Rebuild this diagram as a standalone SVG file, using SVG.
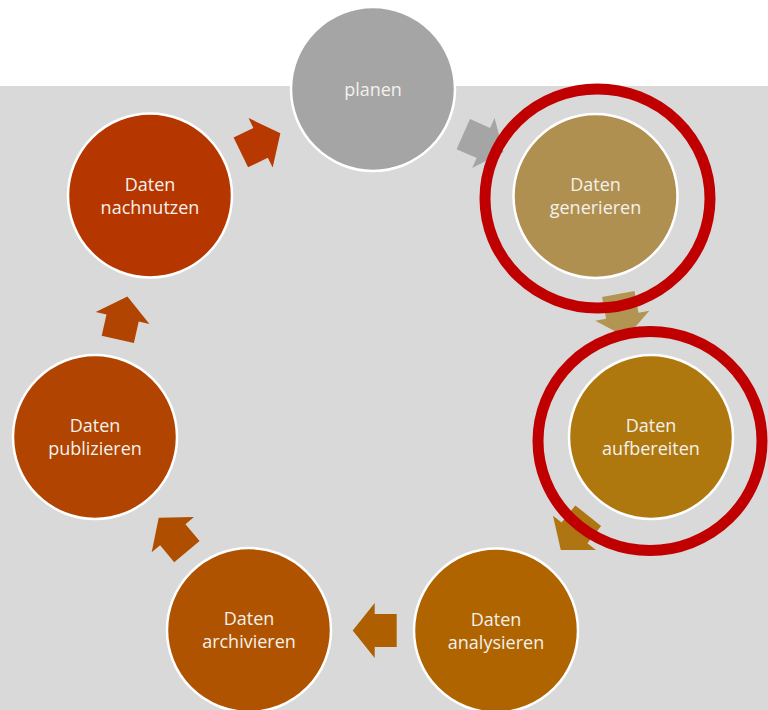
<svg xmlns="http://www.w3.org/2000/svg" width="768" height="710" viewBox="0 0 768 710">
<defs>
<style>
.node circle{stroke:#FFFFFF;stroke-width:2.5}
.node text{font-family:"Open Sans","Noto Sans","DejaVu Sans",sans-serif;font-size:18px;fill:#F4F1EC;text-anchor:middle}
.ring{fill:none;stroke:#C00000;stroke-width:11}
</style>
<polygon id="arr" points="-22,-16.5 0,-16.5 0,-27.5 22,0 0,27.5 0,16.5 -22,16.5"/>
</defs>
<rect x="0" y="0" width="768" height="710" fill="#FFFFFF"/>
<rect x="0" y="86" width="768" height="624" fill="#D9D9D9"/>
<g id="connectors">
<use href="#arr" transform="translate(483.4,143) rotate(24)" fill="#A5A5A5"/>
<use href="#arr" transform="translate(622.3,315.7) rotate(79.4)" fill="#B39553"/>
<use href="#arr" transform="translate(574.5,532.9) rotate(128.6)" fill="#AE7512"/>
<use href="#arr" transform="translate(374.7,630.5) rotate(180)" fill="#AE6000"/>
<use href="#arr" transform="translate(172.8,534.7) rotate(-129.8)" fill="#B04E00"/>
<use href="#arr" transform="translate(122.6,318) rotate(-77.4)" fill="#B04400"/>
<use href="#arr" transform="translate(260.6,142.8) rotate(-26)" fill="#B73800"/>
</g>
<g id="planen" class="node">
<circle cx="373" cy="89" r="82" fill="#A5A5A5"/>
<text x="373" y="96">planen</text>
</g>
<g id="generieren" class="node">
<circle cx="595.5" cy="196" r="82" fill="#B09050"/>
<text x="595.5" y="191">Daten</text>
<text x="595.5" y="214">generieren</text>
</g>
<g id="aufbereiten" class="node">
<circle cx="651" cy="437" r="82" fill="#AE780F"/>
<text x="651" y="432">Daten</text>
<text x="651" y="455">aufbereiten</text>
</g>
<g id="analysieren" class="node">
<circle cx="496" cy="630.5" r="82" fill="#AF6400"/>
<text x="496" y="625.5">Daten</text>
<text x="496" y="648.5">analysieren</text>
</g>
<g id="archivieren" class="node">
<circle cx="249" cy="630" r="82" fill="#B05300"/>
<text x="249" y="625">Daten</text>
<text x="249" y="648">archivieren</text>
</g>
<g id="publizieren" class="node">
<circle cx="95" cy="437" r="82" fill="#B04400"/>
<text x="95" y="432">Daten</text>
<text x="95" y="455">publizieren</text>
</g>
<g id="nachnutzen" class="node">
<circle cx="150" cy="195.5" r="82" fill="#B63600"/>
<text x="150" y="190.5">Daten</text>
<text x="150" y="213.5">nachnutzen</text>
</g>
<g id="highlights">
<ellipse class="ring" cx="597.5" cy="198.5" rx="112.5" ry="109.5"/>
<ellipse class="ring" cx="650" cy="441" rx="112" ry="109.5"/>
</g>
</svg>
